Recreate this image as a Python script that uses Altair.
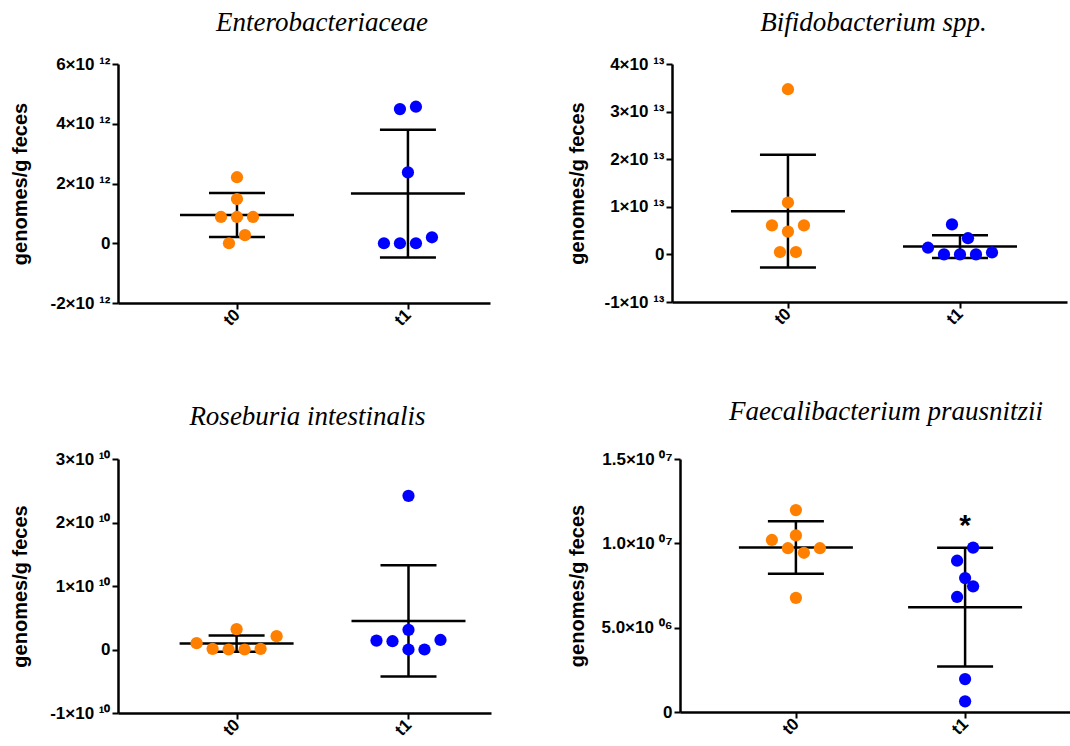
import altair as alt
import pandas as pd

GROUPS = ["t0", "t1"]
COLORS = ["#FF8000", "#0000FF"]

# ---------------- data ----------------
ent_t0 = [2.21e12, 1.48e12, 0.88e12, 0.88e12, 0.88e12, 0.27e12, 0.0]
ent_t0_slot = [0, 0, -1, 0, 1, 0.5, -0.5]
ent_t1 = [4.49e12, 4.57e12, 2.37e12, 0.0, 0.0, 0.0, 0.20e12]
ent_t1_slot = [-0.5, 0.5, 0, -1.5, -0.5, 0.5, 1.5]
ent_ticks = [-2e12, 0, 2e12, 4e12, 6e12]
ent_tick_labels = ["-2×10 ¹²", "0", "2×10 ¹²", "4×10 ¹²", "6×10 ¹²"]

bif_t0 = [3.47e13, 1.09e13, 0.61e13, 0.61e13, 0.48e13, 0.05e13, 0.05e13]
bif_t0_slot = [0, 0, -1, 1, 0, -0.5, 0.5]
bif_t1 = [0.63e13, 0.34e13, 0.14e13, 0.0, 0.0, 0.0, 0.04e13]
bif_t1_slot = [-0.5, 0.5, -2, -1, 0, 1, 2]
bif_ticks = [-1e13, 0, 1e13, 2e13, 3e13, 4e13]
bif_tick_labels = ["-1×10 ¹³", "0", "1×10 ¹³", "2×10 ¹³", "3×10 ¹³", "4×10 ¹³"]

ros_t0 = [0.32e10, 0.21e10, 0.10e10, 0.01e10, 0.0, 0.0, 0.01e10]
ros_t0_slot = [0, 2.5, -2.5, -1.5, -0.5, 0.5, 1.5]
ros_t1 = [2.42e10, 0.31e10, 0.14e10, 0.13e10, 0.15e10, 0.0, 0.0]
ros_t1_slot = [0, 0, -2, -1, 2, 0, 1]
ros_ticks = [-1e10, 0, 1e10, 2e10, 3e10]
ros_tick_labels = ["-1×10 ¹⁰", "0", "1×10 ¹⁰", "2×10 ¹⁰", "3×10 ¹⁰"]

fae_t0 = [11.97e6, 10.20e6, 10.47e6, 9.71e6, 9.71e6, 9.44e6, 6.77e6]
fae_t0_slot = [0, -1.5, 0, -0.5, 1.5, 0.5, 0]
fae_t1 = [9.75e6, 8.97e6, 7.94e6, 7.45e6, 6.82e6, 1.95e6, 0.63e6]
fae_t1_slot = [0.5, -0.5, 0, 0.5, -0.5, 0, 0]
fae_ticks = [0, 5e6, 1e7, 1.5e7]
fae_tick_labels = ["0", "5.0×10 ⁰⁶", "1.0×10 ⁰⁷", "1.5×10 ⁰⁷"]

# significance mark: group, y value, text
star_group = [1]
star_y = [1.047e7]
star_text = ["*"]

Y_TITLE = "genomes/g feces"


def label_expr(vals, labs):
    eps = abs(vals[1] - vals[0]) * 1e-3
    expr = "''"
    for v, l in reversed(list(zip(vals, labs))):
        expr = f"abs(datum.value - ({float(v)!r})) < {eps!r} ? '{l}' : ({expr})"
    return expr


def panel(title, t0, t1, s0, s1, ticks, tlabels, xdom, width, height,
          title_dx, title_offset, ytitle_x, star=None):
    px_per_unit = width / (xdom[1] - xdom[0])
    slot = 16 / px_per_unit
    mean_hw = 57 / px_per_unit
    cap_hw = 28 / px_per_unit
    df = pd.DataFrame({
        "grp": [GROUPS[0]] * len(t0) + [GROUPS[1]] * len(t1),
        "g": [0] * len(t0) + [1] * len(t1),
        "v": t0 + t1,
        "slot": s0 + s1,
    })
    base = alt.Chart(df)
    xscale = alt.Scale(domain=xdom, nice=False, zero=False)
    yscale = alt.Scale(domain=[ticks[0], ticks[-1]], nice=False, zero=False)
    xaxis = alt.Axis(values=[0, 1], title=None, grid=False,
                     labelExpr=f"datum.value < 0.5 ? '{GROUPS[0]}' : '{GROUPS[1]}'",
                     labelAngle=315, labelAlign="right", labelBaseline="middle",
                     labelFont="Liberation Sans", labelFontWeight="bold", labelFontSize=17,
                     labelColor="black", labelPadding=3, labelFlush=False, labelOverlap=False,
                     domainColor="black", domainWidth=2.5, tickColor="black", tickWidth=2,
                     tickSize=6)
    yaxis = alt.Axis(values=ticks, title=Y_TITLE, grid=False,
                     labelExpr=label_expr(ticks, tlabels),
                     labelFont="Liberation Sans", labelFontWeight="bold", labelFontSize=17,
                     labelColor="black", labelPadding=2, labelFlush=False, labelOverlap=False,
                     domainColor="black", domainWidth=2.5, tickColor="black", tickWidth=2,
                     tickSize=6,
                     titleFont="Liberation Sans", titleFontWeight="bold", titleFontSize=20,
                     titleColor="black", titleX=ytitle_x, titleY=height / 2,
                     titleBaseline="middle", titleAlign="center")
    points = base.transform_calculate(
        xp=f"datum.g + datum.slot * {slot}"
    ).mark_circle(size=150, opacity=1).encode(
        x=alt.X("xp:Q", scale=xscale, axis=xaxis),
        y=alt.Y("v:Q", scale=yscale, axis=yaxis),
        color=alt.Color("grp:N", scale=alt.Scale(domain=GROUPS, range=COLORS), legend=None),
    )
    stats = base.transform_aggregate(
        m="mean(v)", sd="stdev(v)", groupby=["g"]
    ).transform_calculate(
        hi="datum.m + datum.sd", lo="datum.m - datum.sd",
        ml=f"datum.g - {mean_hw}", mr=f"datum.g + {mean_hw}",
        cl=f"datum.g - {cap_hw}", cr=f"datum.g + {cap_hw}",
    )
    rule = dict(color="black", strokeWidth=2.5)
    vbar = stats.mark_rule(**rule).encode(
        x=alt.X("g:Q", scale=xscale, axis=xaxis),
        y=alt.Y("lo:Q", scale=yscale, axis=yaxis), y2="hi:Q")
    mline = stats.mark_rule(**rule).encode(
        x=alt.X("ml:Q", scale=xscale, axis=xaxis), x2="mr:Q",
        y=alt.Y("m:Q", scale=yscale, axis=yaxis))
    cap_hi = stats.mark_rule(**rule).encode(
        x=alt.X("cl:Q", scale=xscale, axis=xaxis), x2="cr:Q",
        y=alt.Y("hi:Q", scale=yscale, axis=yaxis))
    cap_lo = stats.mark_rule(**rule).encode(
        x=alt.X("cl:Q", scale=xscale, axis=xaxis), x2="cr:Q",
        y=alt.Y("lo:Q", scale=yscale, axis=yaxis))
    layers = [vbar, mline, cap_hi, cap_lo, points]
    if star is not None:
        sdf = pd.DataFrame({"g": star[0], "y": star[1], "t": star[2]})
        layers.append(alt.Chart(sdf).mark_text(
            font="Liberation Sans", fontSize=30, fontWeight="bold", color="black",
            baseline="alphabetic", align="center"
        ).encode(
            x=alt.X("g:Q", scale=xscale, axis=xaxis),
            y=alt.Y("y:Q", scale=yscale, axis=yaxis),
            text="t:N"))
    return alt.layer(*layers).properties(
        width=width, height=height,
        title=alt.TitleParams(text=title, font="Liberation Serif", fontStyle="italic",
                              fontWeight="normal", fontSize=27, color="black",
                              anchor="middle", offset=title_offset, dx=title_dx),
    )


p1 = panel("Enterobacteriaceae", ent_t0, ent_t1, ent_t0_slot, ent_t1_slot,
           ent_ticks, ent_tick_labels, [-0.696, 1.48], 372, 239, 18, 18, -98)
p2 = panel("Bifidobacterium spp.", bif_t0, bif_t1, bif_t0_slot, bif_t1_slot,
           bif_ticks, bif_tick_labels, [-0.674, 1.622], 395, 238, 4, 18, -95)
p3 = panel("Roseburia intestinalis", ros_t0, ros_t1, ros_t0_slot, ros_t1_slot,
           ros_ticks, ros_tick_labels, [-0.69, 1.48], 373, 254, 3, 19, -98)
p4 = panel("Faecalibacterium prausnitzii", fae_t0, fae_t1, fae_t0_slot, fae_t1_slot,
           fae_ticks, fae_tick_labels, [-0.685, 1.62], 390, 253, 11, 24, -103,
           star=(star_group, star_y, star_text))

top = alt.hconcat(p1, p2, spacing=76)
bottom = alt.hconcat(p3, p4, spacing=75)
chart = alt.vconcat(top, bottom, spacing=69).properties(
    padding={"left": 9, "top": 9, "right": 0, "bottom": 0},
    background="white",
).configure_view(stroke=None)

chart.save("out.html", embed_options={"renderer": "svg", "actions": False})
